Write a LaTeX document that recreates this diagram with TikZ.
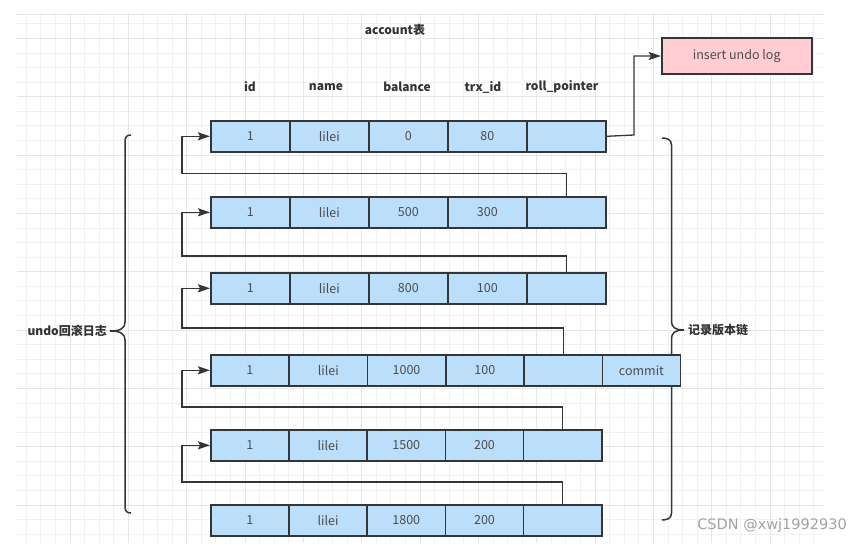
\documentclass[tikz,border=0pt]{standalone}
\usepackage{fontspec}
\setmainfont{Noto Sans CJK SC}
\newfontfamily\wmfont{DejaVu Sans}
\usetikzlibrary{arrows.meta,calc}
\definecolor{cellfill}{HTML}{BBDEFB}
\definecolor{pinkfill}{HTML}{FFCDD2}
\definecolor{edge}{HTML}{333539}
\definecolor{txt}{HTML}{4D4D4D}
\definecolor{hdr}{HTML}{333333}
\definecolor{gridminor}{HTML}{F1F1F1}
\definecolor{gridmajor}{HTML}{E6E6E6}
\definecolor{wm}{HTML}{A3A3A3}
\begin{document}
\begin{tikzpicture}[x=1pt,y=-1pt,
  cell/.style={draw=edge, line width=1.6pt, fill=cellfill, minimum height=31pt, inner sep=0pt,
    font=\fontsize{12.5}{14}\selectfont, text=txt, anchor=north west},
  hdrtext/.style={font=\fontsize{12}{14}\selectfont\bfseries, text=hdr, inner sep=0pt},
  arr/.style={draw=edge, line width=1.3pt, -{Stealth[length=12pt,width=8pt,inset=2pt]}},
  bracepath/.style={draw=edge, line width=1.5pt},
  pinkbox/.style={draw=edge, line width=1.6pt, fill=pinkfill, minimum width=150pt, minimum height=36pt,
    inner sep=0pt, font=\fontsize{12.5}{14}\selectfont, text=txt}]
\useasboundingbox (0,0) rectangle (861,543);
\fill[white] (0,0) rectangle (861,543);
% grid
\begin{scope}
\clip (17,14) rectangle (823,543);
\foreach \k in {0,...,56} \draw[gridminor, line width=0.8pt] ({11.7+14.583*\k},0) -- ++(0,543);
\foreach \k in {-1,...,38} \draw[gridminor, line width=0.8pt] (0,{9.2+14.583*\k}) -- ++(861,0);
\foreach \k in {0,...,14} \draw[gridmajor, line width=0.9pt] ({11.7+58.333*\k},0) -- ++(0,543);
\foreach \k in {-1,...,9} \draw[gridmajor, line width=0.9pt] (0,{38.4+58.333*\k}) -- ++(861,0);
\end{scope}
\draw[gridmajor, line width=0.9pt] (17,14) -- (823,14);

% braces
\draw[bracepath] (131,135) .. controls (126.5,135) and (125,137) .. (125,142) -- (125,322)
  .. controls (125,328) and (121,331) .. (110,331) .. controls (121,331) and (125,334) .. (125,340)
  -- (125,506) .. controls (125,511) and (126.5,513) .. (131,513);
\draw[bracepath] (662,138) .. controls (667,138) and (671.5,139.5) .. (671.5,145) -- (671.5,321)
  .. controls (671.5,327) and (674.5,330) .. (684,330) .. controls (674.5,330) and (671.5,333) .. (671.5,339)
  -- (671.5,513) .. controls (671.5,518.5) and (667,520) .. (662,520);
\node[hdrtext, anchor=east] (lbrace) at (107,331) {undo回滚日志};
\node[hdrtext, anchor=west] (rbrace) at (688,330) {记录版本链};

% titles
\node[hdrtext] (title) at (395,30) {account表};
\node[hdrtext] (hid) at (250,87) {id};
\node[hdrtext] (hname) at (326,87) {name};
\node[hdrtext] (hbal) at (407,87) {balance};
\node[hdrtext] (htrx) at (483,87) {trx\_id};
\node[hdrtext] (hroll) at (562,87) {roll\_pointer};

% rows
\foreach \i/\t in {1/1,2/lilei,3/0,4/80,5/{}}
  \node[cell, minimum width=79pt] (r1c\i) at ({210+(\i-1)*79},120) {\t};
\foreach \i/\t in {1/1,2/lilei,3/500,4/300,5/{}}
  \node[cell, minimum width=79pt] (r2c\i) at ({210+(\i-1)*79},196) {\t};
\foreach \i/\t in {1/1,2/lilei,3/800,4/100,5/{}}
  \node[cell, minimum width=79pt] (r3c\i) at ({210+(\i-1)*79},272) {\t};
\foreach \i/\t in {1/1,2/lilei,3/1000,4/100,5/{},6/commit}
  \node[cell, minimum width=78.3pt] (r4c\i) at ({210+(\i-1)*78.3},354) {\t};
\foreach \i/\t in {1/1,2/lilei,3/1500,4/200,5/{}}
  \node[cell, minimum width=78.2pt] (r5c\i) at ({210+(\i-1)*78.2},429) {\t};
\foreach \i/\t in {1/1,2/lilei,3/1800,4/200,5/{}}
  \node[cell, minimum width=78.2pt] (r6c\i) at ({210+(\i-1)*78.2},504) {\t};

% insert undo log
\node[pinkbox] (undo) at (736.7,56) {insert undo log};
\coordinate (u1) at (634,135);
\draw[arr] (r1c5.east) -- (u1) |- (undo.west);

% version chain connectors
\coordinate (k1) at (182,173.5);
\coordinate (k2) at (182,256);
\coordinate (k3) at (182,328);
\coordinate (k4) at (182,407);
\coordinate (k5) at (182,482);
\draw[arr] (r2c5.north) |- (k1) |- (r1c1.west);
\draw[arr] (r3c5.north) |- (k2) |- (r2c1.west);
\draw[arr] (r4c5.north) |- (k3) |- (r3c1.west);
\draw[arr] (r5c5.north) |- (k4) |- (r4c1.west);
\draw[arr] (r6c5.north) |- (k5) |- (r5c1.west);

% watermark
\node[anchor=east, inner sep=0pt, text=wm, font=\wmfont\fontsize{14.5}{16}\selectfont] (wmark) at (847,525) {CSDN @xwj1992930};
\end{tikzpicture}
\end{document}
